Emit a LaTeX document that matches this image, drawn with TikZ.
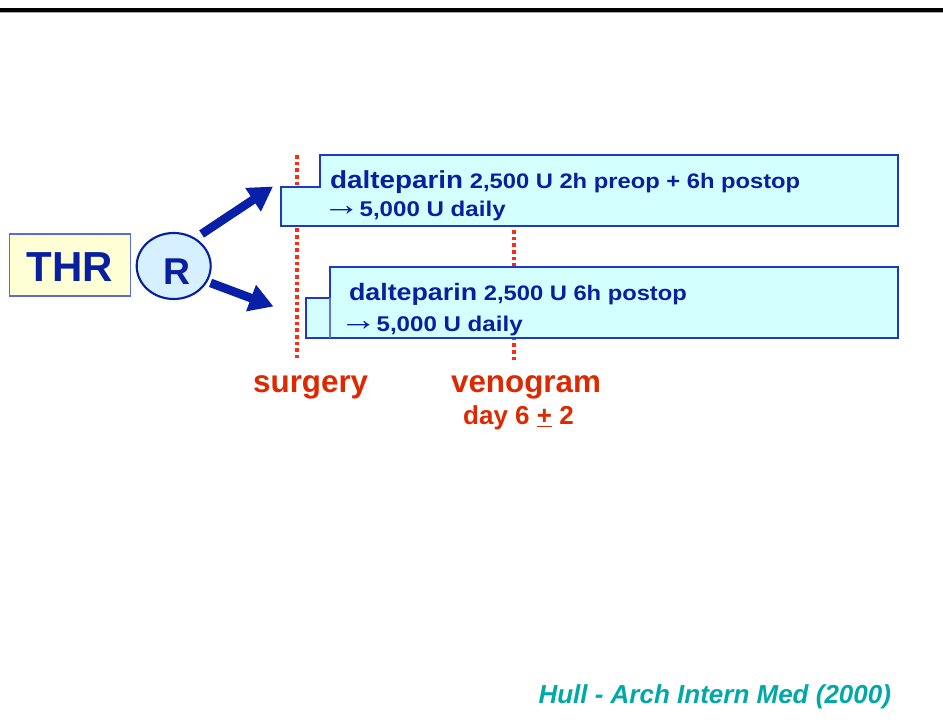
\documentclass[tikz,border=0pt]{standalone}
\usepackage{fontspec}
\setmainfont{Liberation Sans}
\newfontfamily\boxfont[FakeStretch=1.13]{Liberation Sans}
\usetikzlibrary{arrows.meta,shapes.geometric}
\definecolor{navy}{RGB}{8,32,160}
\definecolor{arrowblue}{RGB}{8,32,168}
\definecolor{boxfill}{RGB}{212,255,255}
\definecolor{boxline}{RGB}{32,56,200}
\definecolor{thrfill}{RGB}{255,255,214}
\definecolor{thrline}{RGB}{90,110,210}
\definecolor{rfill}{RGB}{214,240,255}
\definecolor{redtext}{RGB}{222,40,0}
\definecolor{redline}{RGB}{250,45,20}
\definecolor{teal}{RGB}{0,168,168}
\newcommand{\thinarrow}{\hspace{-5.5pt}\smash{\raisebox{0.4pt}{\scalebox{1.56}[1.5]{→}}}\hspace{-5.5pt}}
\tikzset{
  txt/.style={inner sep=0pt, outer sep=0pt},
  boxtxt/.style={txt, anchor=base west, text=navy, font=\boxfont\bfseries},
  redlab/.style={txt, anchor=base, text=redtext, font=\bfseries},
  timeline/.style={redline, line width=2.8pt, dash pattern=on 2.7pt off 2.3pt},
  armbox/.style={fill=boxfill, draw=boxline, line width=1.1pt},
  bigarrow/.style={arrowblue, line width=6.5pt, -{Triangle[length=18pt,width=20pt]}}
}
\begin{document}
\begin{tikzpicture}[x=0.75pt,y=-0.75pt]
\useasboundingbox (0,0) rectangle (943,723);
\fill[white] (0,0) rectangle (943,723);
% top rule
\draw[black, line width=2.4pt] (0,10) -- (943,10);
\draw[black!35, line width=0.8pt] (0,12.6) -- (943,12.6);

% time lines (behind boxes)
\draw[timeline] (297,155) -- (297,358);
\draw[timeline] (514,230) -- (514,362);

% arm boxes
\draw[armbox] (281,187) -- (320,187) -- (320,155) -- (898,155) -- (898,226) -- (281,226) -- cycle;
\draw[armbox] (306,298) -- (330,298) -- (330,267) -- (898,267) -- (898,338) -- (306,338) -- cycle;
\draw[boxline!70, line width=0.8pt] (330,298) -- (330,338);

% box texts
\node[boxtxt] (a1l1) at (330,189) {{\fontsize{18.5}{20}\selectfont dalteparin}\hspace{5pt}\fontsize{15.75}{18}\selectfont 2,500 U 2h preop + 6h postop};
\node[boxtxt] (a1l2) at (330,216.5) {\fontsize{16}{18}\selectfont \thinarrow\ 5,000 U daily};
\node[boxtxt] (a2l1) at (349,300.5) {{\fontsize{17.8}{20}\selectfont dalteparin}\hspace{5pt}\fontsize{15.75}{18}\selectfont 2,500 U 6h postop};
\node[boxtxt] (a2l2) at (347,331.5) {\fontsize{16}{18}\selectfont \thinarrow\ 5,000 U daily};

% THR and R
\node[draw=thrline, fill=thrfill, line width=1pt, minimum width=90.75pt, minimum height=46.5pt, inner sep=0pt] (thr) at (69.7,265) {};
\node[txt, anchor=base, text=navy, font=\bfseries\fontsize{31.5}{34}\selectfont] (thrt) at (70,281.7) {THR};
\node[ellipse, draw=navy, fill=rfill, line width=1.6pt, minimum width=55.5pt, minimum height=49.5pt, inner sep=0pt] (R) at (173.7,266) {};
\node[txt, anchor=base, text=navy, font=\bfseries\fontsize{28}{30}\selectfont] (Rt) at (176.5,285) {R};

% arrows
\coordinate (tip1) at (273,186.5);
\coordinate (tip2) at (273.5,306.5);
\draw[bigarrow, shorten <=5.5pt] (R.52) -- (tip1);
\draw[bigarrow, shorten <=2.5pt] (R.-25) -- (tip2);

% labels
\node[redlab, font=\bfseries\fontsize{23.5}{26}\selectfont] (surg) at (310.7,393) {surgery};
\node[redlab, font=\bfseries\fontsize{23.5}{26}\selectfont] (veno) at (526,393) {venogram};
\node[redlab, font=\bfseries\fontsize{19.5}{22}\selectfont] (day) at (518.5,424.3) {day 6 \underline{+} 2};

% citation
\node[txt, anchor=base east, text=teal, font=\bfseries\itshape\fontsize{19.5}{22}\selectfont] (cite) at (891,703) {Hull - Arch Intern Med (2000)};
\end{tikzpicture}
\end{document}
